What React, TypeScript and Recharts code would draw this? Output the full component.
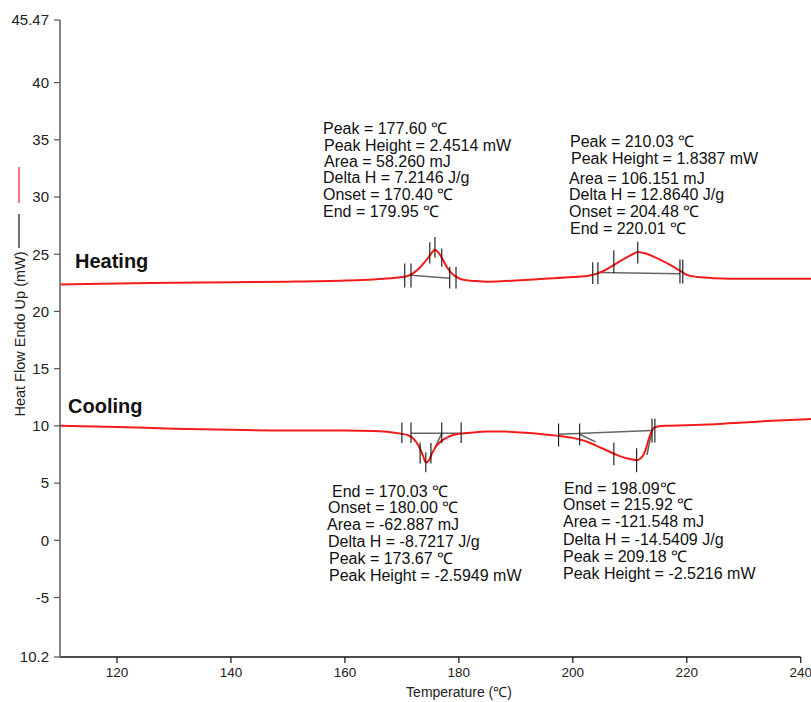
import React from 'react';
import { LineChart, Line, XAxis, YAxis, ReferenceLine } from 'recharts';

const FONT = '"Liberation Sans", Arial, Helvetica, sans-serif';

const xTicks = [120, 140, 160, 180, 200, 220, 240];
const yTicks = [45.47, 40, 35, 30, 25, 20, 15, 10, 5, 0, -5, -10.2];
const xDomain: [number, number] = [110, 241.8];
const yDomain: [number, number] = [-10.2, 45.47];

const heating = [
  { t: 110, hf: 22.35 }, { t: 120, hf: 22.45 }, { t: 130, hf: 22.5 }, { t: 140, hf: 22.55 },
  { t: 150, hf: 22.6 }, { t: 160, hf: 22.7 }, { t: 165, hf: 22.8 }, { t: 168, hf: 22.9 },
  { t: 170, hf: 23.0 }, { t: 171, hf: 23.1 }, { t: 172, hf: 23.35 }, { t: 173, hf: 23.75 },
  { t: 174, hf: 24.3 }, { t: 175, hf: 24.95 }, { t: 175.8, hf: 25.4 }, { t: 176.5, hf: 25.1 },
  { t: 177, hf: 24.7 }, { t: 178, hf: 23.8 }, { t: 179, hf: 23.2 }, { t: 180, hf: 22.9 },
  { t: 181, hf: 22.75 }, { t: 183, hf: 22.65 }, { t: 185, hf: 22.6 }, { t: 188, hf: 22.65 },
  { t: 190, hf: 22.7 }, { t: 195, hf: 22.85 }, { t: 200, hf: 23.0 }, { t: 203, hf: 23.15 },
  { t: 205, hf: 23.45 }, { t: 207, hf: 24.0 }, { t: 209, hf: 24.6 }, { t: 210.5, hf: 25.0 },
  { t: 211.4, hf: 25.2 }, { t: 212.5, hf: 25.1 }, { t: 215, hf: 24.6 }, { t: 217, hf: 24.1 },
  { t: 219, hf: 23.5 }, { t: 220, hf: 23.2 }, { t: 222, hf: 23.0 }, { t: 225, hf: 22.9 },
  { t: 230, hf: 22.85 }, { t: 235, hf: 22.85 }, { t: 241.8, hf: 22.85 },
];

const cooling = [
  { t: 110, hf: 10.0 }, { t: 120, hf: 9.9 }, { t: 130, hf: 9.75 }, { t: 140, hf: 9.65 },
  { t: 150, hf: 9.6 }, { t: 160, hf: 9.6 }, { t: 165, hf: 9.55 }, { t: 168, hf: 9.45 },
  { t: 170, hf: 9.3 }, { t: 171, hf: 9.2 }, { t: 172, hf: 8.9 }, { t: 173, hf: 8.2 },
  { t: 173.7, hf: 7.4 }, { t: 174.2, hf: 6.8 }, { t: 174.7, hf: 6.95 }, { t: 175.3, hf: 7.6 },
  { t: 176, hf: 8.2 }, { t: 177, hf: 8.7 }, { t: 178, hf: 9.0 }, { t: 179, hf: 9.2 },
  { t: 180, hf: 9.3 }, { t: 182, hf: 9.4 }, { t: 185, hf: 9.5 }, { t: 188, hf: 9.5 },
  { t: 190, hf: 9.45 }, { t: 193, hf: 9.35 }, { t: 196, hf: 9.2 }, { t: 198, hf: 9.1 },
  { t: 200, hf: 8.95 }, { t: 202, hf: 8.7 }, { t: 204, hf: 8.3 }, { t: 206, hf: 7.85 },
  { t: 208, hf: 7.4 }, { t: 210, hf: 7.1 }, { t: 211.2, hf: 7.0 }, { t: 212, hf: 7.2 },
  { t: 212.7, hf: 7.8 }, { t: 213.3, hf: 8.8 }, { t: 213.9, hf: 9.6 }, { t: 214.5, hf: 9.9 },
  { t: 216, hf: 10.0 }, { t: 220, hf: 10.05 }, { t: 225, hf: 10.15 }, { t: 230, hf: 10.3 },
  { t: 235, hf: 10.45 }, { t: 241.8, hf: 10.6 },
];

// vertical event markers: temperature, low and high heat flow
const markers = [
  { t: 170.5, lo: 22.1, hi: 24.2 }, { t: 171.6, lo: 22.1, hi: 24.2 },
  { t: 174.9, lo: 24.2, hi: 26.05 }, { t: 175.8, lo: 24.7, hi: 26.5 },
  { t: 177.0, lo: 23.9, hi: 25.5 }, { t: 178.4, lo: 22.0, hi: 23.9 },
  { t: 179.5, lo: 22.0, hi: 23.9 },
  { t: 203.5, lo: 22.4, hi: 24.3 }, { t: 204.4, lo: 22.4, hi: 24.3 },
  { t: 207.2, lo: 23.35, hi: 25.35 }, { t: 211.4, lo: 24.2, hi: 26.1 },
  { t: 218.8, lo: 22.45, hi: 24.55 }, { t: 219.3, lo: 22.45, hi: 24.55 },
  { t: 170.0, lo: 8.5, hi: 10.3 }, { t: 171.6, lo: 8.5, hi: 10.3 },
  { t: 173.2, lo: 6.7, hi: 8.55 }, { t: 174.2, lo: 5.95, hi: 7.7 },
  { t: 175.1, lo: 6.7, hi: 8.5 }, { t: 177.0, lo: 8.5, hi: 10.3 },
  { t: 180.4, lo: 8.5, hi: 10.3 },
  { t: 197.5, lo: 8.2, hi: 10.2 }, { t: 201.2, lo: 8.3, hi: 10.2 },
  { t: 207.2, lo: 6.55, hi: 8.55 }, { t: 211.2, lo: 5.95, hi: 8.05 },
  { t: 213.9, lo: 8.55, hi: 10.65 }, { t: 214.4, lo: 8.55, hi: 10.65 },
];

// baselines and tangents: start temp/flow, end temp/flow
const baselines = [
  { t1: 171.6, y1: 23.16, t2: 178.4, y2: 22.9 },
  { t1: 204.4, y1: 23.4, t2: 218.8, y2: 23.3 },
  { t1: 171.6, y1: 9.35, t2: 180.4, y2: 9.35 },
  { t1: 177.0, y1: 9.35, t2: 175.8, y2: 8.1 },
  { t1: 197.5, y1: 9.27, t2: 213.9, y2: 9.6 },
  { t1: 201.2, y1: 9.27, t2: 204.0, y2: 8.6 },
  { t1: 213.0, y1: 7.45, t2: 213.9, y2: 9.6 },
];

const heatPeak1 = ['Peak = 177.60 ℃', 'Peak Height = 2.4514 mW', 'Area = 58.260 mJ', 'Delta H = 7.2146 J/g', 'Onset = 170.40 ℃', 'End = 179.95 ℃'];
const heatPeak2 = ['Peak = 210.03 ℃', 'Peak Height = 1.8387 mW', 'Area = 106.151 mJ', 'Delta H = 12.8640 J/g', 'Onset = 204.48 ℃', 'End = 220.01 ℃'];
const coolPeak1 = ['End = 170.03 ℃', 'Onset = 180.00 ℃', 'Area = -62.887 mJ', 'Delta H = -8.7217 J/g', 'Peak = 173.67 ℃', 'Peak Height = -2.5949 mW'];
const coolPeak2 = ['End = 198.09℃', 'Onset = 215.92 ℃', 'Area = -121.548 mJ', 'Delta H = -14.5409 J/g', 'Peak = 209.18 ℃', 'Peak Height = -2.5216 mW'];

const blocks = [
  { lines: heatPeak1, xs: [323, 324, 324, 323, 323, 323], ys: [134, 151, 167, 183, 200, 217] },
  { lines: heatPeak2, xs: [570, 571, 569, 569, 569, 570], ys: [147, 164, 184, 200, 217, 234] },
  { lines: coolPeak1, xs: [332, 328, 327, 328, 329, 329], ys: [497, 513, 530, 547, 564, 581] },
  { lines: coolPeak2, xs: [564, 563, 563, 563, 563, 563], ys: [494, 510, 527, 545, 562, 579] },
];

export default function App() {
  return (
    <div style={{ position: 'absolute', left: 0, top: 0, width: 811, height: 702, background: '#fff' }}>
      <LineChart width={811} height={702} margin={{ top: 20, right: 0, bottom: 15, left: 0 }}>
        <XAxis
          type="number"
          dataKey="t"
          domain={xDomain}
          ticks={xTicks}
          allowDataOverflow
          axisLine={false}
          tickLine={{ stroke: '#111', strokeWidth: 1.2 }}
          tickSize={6}
          tickMargin={4}
          height={30}
          tick={{ fill: '#222', fontSize: 13.5, fontFamily: FONT }}
        />
        <YAxis
          type="number"
          domain={yDomain}
          ticks={yTicks}
          allowDataOverflow
          interval={0}
          width={60}
          axisLine={{ stroke: '#666', strokeWidth: 1.6 }}
          tickLine={{ stroke: '#555', strokeWidth: 1.2 }}
          tickSize={6}
          tickMargin={5}
          tickFormatter={(v: number) => (v === -10.2 ? '10.2' : String(v))}
          tick={{ fill: '#222', fontSize: 15, fontFamily: FONT }}
        />
        <ReferenceLine
          segment={[{ x: 110, y: -10.2 }, { x: 240, y: -10.2 }]}
          stroke="#111"
          strokeWidth={1.6}
          ifOverflow="visible"
        />
        {baselines.map((b, i) => (
          <ReferenceLine
            key={'b' + i}
            segment={[{ x: b.t1, y: b.y1 }, { x: b.t2, y: b.y2 }]}
            stroke="#666"
            strokeWidth={1.6}
          />
        ))}
        <Line data={heating} dataKey="hf" type="monotone" stroke="#f21c1c" strokeWidth={2} dot={false} isAnimationActive={false} />
        <Line data={cooling} dataKey="hf" type="monotone" stroke="#f21c1c" strokeWidth={2} dot={false} isAnimationActive={false} />
        {markers.map((m, i) => (
          <ReferenceLine
            key={'m' + i}
            segment={[{ x: m.t, y: m.lo }, { x: m.t, y: m.hi }]}
            stroke="#111"
            strokeWidth={1.1}
          />
        ))}
      </LineChart>
      <svg width={811} height={702} style={{ position: 'absolute', left: 0, top: 0, pointerEvents: 'none' }} fontFamily={FONT}>
        <text x={75} y={268} fontSize={20} fontWeight="bold" fill="#111">Heating</text>
        <text x={68} y={413} fontSize={20} fontWeight="bold" fill="#111">Cooling</text>
        {blocks.map((b, bi) =>
          b.lines.map((s, li) => (
            <text key={bi + '-' + li} x={b.xs[li]} y={b.ys[li]} fontSize={16} fill="#111">{s}</text>
          ))
        )}
        <text x={459} y={697} fontSize={14} textAnchor="middle" fill="#222">Temperature (℃)</text>
        <text x={24.5} y={334} fontSize={14.5} textAnchor="middle" fill="#222" transform="rotate(-90 24.5 334)">Heat Flow Endo Up (mW)</text>
        <line x1={19} y1={167} x2={19} y2={203} stroke="#f21c1c" strokeWidth={1.2} />
        <line x1={19} y1={214} x2={19} y2={248} stroke="#111" strokeWidth={1.2} />
      </svg>
    </div>
  );
}
